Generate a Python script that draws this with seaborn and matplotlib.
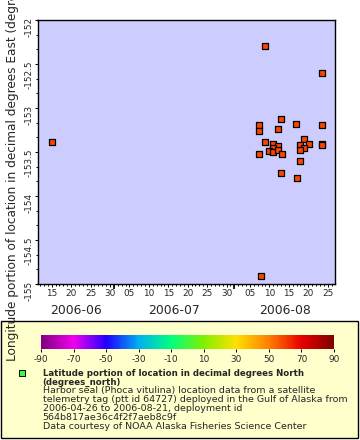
import seaborn as sns
import numpy as np
import pandas as pd
import matplotlib.pyplot as plt
import matplotlib.dates as mdates
import matplotlib.transforms as mtransforms
from matplotlib.colors import LinearSegmentedColormap
from matplotlib.patches import Rectangle
from matplotlib.lines import Line2D
from matplotlib.ticker import MultipleLocator
import matplotlib as mpl

# seal locations (time, longitude)
times = ['2006-06-15 00:00', '2006-08-08 19:00', '2006-08-23 12:00', '2006-08-13 00:00',
         '2006-08-16 20:00', '2006-08-07 06:00', '2006-08-07 06:00', '2006-08-12 05:00',
         '2006-08-23 12:00', '2006-08-08 22:00', '2006-08-10 22:00', '2006-08-12 05:00',
         '2006-08-10 22:00', '2006-08-09 19:00', '2006-08-10 22:00', '2006-08-12 05:00',
         '2006-08-13 06:00', '2006-08-07 06:00', '2006-08-18 22:00', '2006-08-20 05:00',
         '2006-08-17 19:00', '2006-08-18 22:00', '2006-08-17 19:00', '2006-08-23 12:00',
         '2006-08-23 12:00', '2006-08-17 22:00', '2006-08-13 00:00', '2006-08-17 02:00',
         '2006-08-07 19:00']
lons = [-153.39, -152.29, -152.60, -153.12, -153.18, -153.19, -153.26, -153.235,
        -153.19, -153.39, -153.41, -153.43, -153.46, -153.485, -153.50, -153.475,
        -153.52, -153.52, -153.35, -153.41, -153.42, -153.45, -153.475, -153.405,
        -153.415, -153.60, -153.735, -153.80, -154.905]

cbar_ticks = [-90, -70, -50, -30, -10, 10, 30, 50, 70, 90]
cbar_colors = ['#800080', '#f000f0', '#2000ff', '#00b0f0', '#00ff80',
               '#80f000', '#ffe000', '#ff8000', '#e80000', '#800000']
months = ['2006-06', '2006-07', '2006-08', '2006-09']

xmin = pd.Timestamp('2006-06-11 08:24')
xmax = pd.Timestamp('2006-08-26 21:36')

df = pd.DataFrame({'time': pd.to_datetime(times), 'lon': lons})

sns.set_style('ticks')
plt.rcParams['font.family'] = ['DejaVu Sans']
plt.rcParams['axes.unicode_minus'] = False

W, H = 360, 440
fig = plt.figure(figsize=(3.6, 4.4), dpi=100)
ax = fig.add_axes([37.5 / W, 1 - 284 / H, 297.5 / W, 264 / H])
ax.set_facecolor('#ccccff')

sns.scatterplot(data=df, x='time', y='lon', marker='s', s=20, color='#ff4400',
                edgecolor='black', linewidth=0.9, ax=ax, zorder=3)

ax.set_xlim(xmin, xmax)
ax.set_ylim(-155, -152)
for sp in ax.spines.values():
    sp.set_linewidth(1.0)
    sp.set_color('black')

ax.xaxis.set_major_locator(mdates.DayLocator(bymonthday=[5, 10, 15, 20, 25, 30]))
ax.xaxis.set_major_formatter(mdates.DateFormatter('%d'))
ax.xaxis.set_minor_locator(mdates.DayLocator())
ax.yaxis.set_major_locator(MultipleLocator(0.5))
ax.yaxis.set_minor_locator(MultipleLocator(0.5 / 3))
ax.yaxis.set_major_formatter(mpl.ticker.FuncFormatter(lambda v, p: f'{v:g}'))
ax.tick_params(axis='both', which='major', labelsize=6.4, length=2.4, width=0.7,
               color='black', pad=1.5)
ax.tick_params(axis='both', which='minor', length=1.5, width=0.7, color='black')
ax.tick_params(axis='y', labelrotation=90, pad=0.5)
ax.set_xlabel('')
ax.set_ylabel('Longitude portion of location in decimal degrees East (degrees_east)',
              fontsize=8.7)
ax.yaxis.set_label_coords(-0.062, 0.5)

# month boundary ticks
sec = ax.secondary_xaxis('bottom')
sec.xaxis.set_major_locator(mdates.MonthLocator())
sec.xaxis.set_major_formatter(mpl.ticker.NullFormatter())
sec.tick_params(length=3.6, width=1.2, color='black')
sec.spines['bottom'].set_visible(False)

# month labels centred on the visible part of each month
trans = mtransforms.blended_transform_factory(ax.transData, ax.transAxes)
lo, hi = mdates.date2num(xmin), mdates.date2num(xmax)
for m0, m1 in zip(months[:-1], months[1:]):
    a = max(lo, mdates.date2num(pd.Timestamp(m0 + '-01')))
    b = min(hi, mdates.date2num(pd.Timestamp(m1 + '-01')))
    ax.text((a + b) / 2, -0.1, m0, transform=trans, ha='center', va='center',
            fontsize=8.9)

# legend box
fig.add_artist(Rectangle((0.5 / W, 1 - 438 / H), 357.5 / W, 117 / H,
                         transform=fig.transFigure, facecolor='#ffffcc',
                         edgecolor='black', linewidth=1.0, zorder=-1))

cax = fig.add_axes([41 / W, 1 - 349 / H, 293 / W, 14 / H])
cmap = LinearSegmentedColormap.from_list(
    'rb', list(zip(np.linspace(0, 1, len(cbar_colors)), cbar_colors)))
sm = mpl.cm.ScalarMappable(norm=mpl.colors.Normalize(-90, 90), cmap=cmap)
cb = fig.colorbar(sm, cax=cax, orientation='horizontal', ticks=cbar_ticks)
cb.outline.set_visible(False)
cax.xaxis.set_major_formatter(mpl.ticker.FuncFormatter(lambda v, p: f'{v:g}'))
cax.tick_params(labelsize=6.4, length=2.5, width=0.7, color='black', pad=1.5)

fig.add_artist(Line2D([22.3 / W], [1 - 372.7 / H], marker='s', markersize=4.6,
                      markerfacecolor='#33ff33', markeredgecolor='black',
                      markeredgewidth=0.7, transform=fig.transFigure))

lines = [('Latitude portion of location in decimal degrees North', 'bold', 6.2),
         ('(degrees_north)', 'bold', 6.2),
         ('Harbor seal (Phoca vitulina) location data from a satellite', 'normal', 6.8),
         ('telemetry tag (ptt id 64727) deployed in the Gulf of Alaska from', 'normal', 6.8),
         ('2006-04-26 to 2006-08-21, deployment id', 'normal', 6.8),
         ('564b817ae36c4f2f7aeb8c9f', 'normal', 6.8),
         ('Data courtesy of NOAA Alaska Fisheries Science Center', 'normal', 6.8)]
for i, (txt, wt, fs) in enumerate(lines):
    fig.text(42.7 / W, 1 - (375.5 + 8.9 * i) / H, txt, fontsize=fs,
             fontweight=wt, va='baseline', ha='left')

fig.savefig('out.png', dpi=100)
